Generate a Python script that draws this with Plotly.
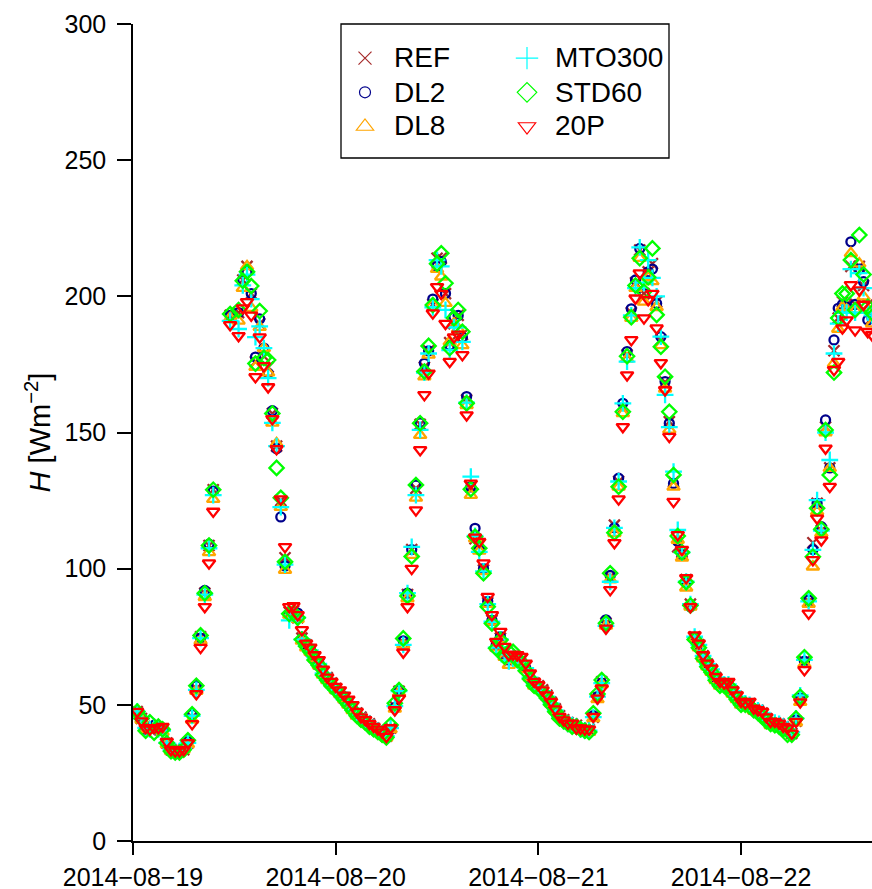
import pandas as pd
import plotly.graph_objects as go

# half-hourly timestamps 2014-08-19 00:30 ... 2014-08-22 15:30
times = pd.date_range("2014-08-19 00:30", periods=175, freq="30min")
N = None

REF = [
    47.5, 45, 41.5, 41, 42, 41.5, 40.5, 36, 33.5, 33, 33, 33.5,
    36, 45.5, 56, 75, 91, 108.5, 129, N, N, N, 193, N,
    194, 206, 211, 201, 176, 190, 178, 174, 157, 145, 125, 104,
    84, 84.5, 82, 74.5, 72, 70, 67.5, 65, 62, 60, 58, 56,
    54.5, 52.5, 51, 49, 47, 45.5, 44, 43, 41.5, 40.5, 39.5, 38.5,
    41.5, 49.5, 55, 73, 90.5, 107, 129.5, 153, 174, 180, 197, 214,
    214, 201, 183, 190, 193, 186, 162, 130, 111, 109, 99.5, 87.5,
    81, 71.5, 74.5, 69, 66, 67.5, 67, 66.5, 64, 60.5, 58, 57,
    55.5, 53.5, 51, 48.5, 46, 44.5, 43.5, 43, 42.5, 41.5, 41, 41,
    45.5, 53, 58.5, 80, 97, 116, 132, 159, 178.5, 194, 205, 217,
    201, 209, 212, 198, 184, 168.5, 154, 132, 108, 106, 96, 87,
    75, 72, 68, 65, 63, 60, 58, 57.5, 57.5, 55, 53, 51,
    50.5, 50.5, 48.5, 48, 47, 45, 43.5, 43.5, 43, 42, 41, 39.5,
    44, 52, 66, 88, 109.5, 124, 114, 152, 137, 180, 192, 198,
    197, 211, 197, 211, 204, 197, 192,
]
DL2 = [
    47.5, 45, 41, 41.5, 42.5, 40.5, 40.5, 36, 33.5, 33, 33, 34,
    36.5, 46.5, 57, 74.5, 92, 109, 128.5, N, N, N, 193, N,
    194, 206, 209, 201, 177.7, 191.7, 181, 171.8, 158, 144, 119, 101,
    83.5, 84, 83.7, 74, 72, 70.5, 67, 65.5, 61.5, 59.5, 57.5, 56,
    54, 52, 50.5, 48.5, 46.5, 45, 43.5, 42.5, 41, 40, 39, 38,
    41, 49, 55.5, 73.5, 91, 107, 130.7, 153.5, 175.4, 180, 199, 211,
    212.7, 201, 182, 192.5, 193, 185, 163.2, 130, 114.8, 107, 100, 88,
    81, 72, 75, 68.5, 66.5, 67, 66.5, 66, 63.5, 60, 57.5, 56.5,
    55, 53, 50.5, 48, 45.5, 44, 43, 42.5, 42, 41, 40.5, 40.5,
    46, 53, 58, 81.2, 97.5, 115, 133.2, 160.7, 179.7, 195.4, 206, 217.6,
    201, 209, 210, 197.4, 185.2, 168.7, 153.4, 131.3, 110, 105, 95, 86,
    74.5, 71.5, 67.5, 64.5, 62.5, 59.5, 57.5, 57, 57, 54.5, 52.5, 50.5,
    50, 50, 48, 47.5, 46.5, 44.5, 43, 43, 42.5, 41.5, 40.5, 39.5,
    44.5, 52.5, 66, 88.5, 107, 124, 115.4, 154.6, 137, 184, 195.6, 197,
    196, 220, 197, 210, 205.4, 191.3, 192,
]
DL8 = [
    47, 44.5, 41, 41, 41.5, 41, 40, 35.5, 33, 32.5, 32.5, 33.5,
    35.5, 44.5, 55, 73.5, 89.5, 106, 125.5, N, N, N, 192, N,
    191, 203, 211, 195.7, 174, 188.7, 181, 172, 153.5, 146, 122.6, 99.5,
    83, 83.5, 81.5, 73.5, 71, 69.5, 67, 64.5, 61, 59, 57.5, 55.5,
    54, 52, 50, 48, 46, 45, 43.5, 42.5, 41, 40, 39, 38,
    41, 48.5, 54.5, 72, 89, 105, 126, 149, 170.5, 178.5, 197, 210,
    207.2, 197.5, 183.3, 190, 188, 182, 160, 127, 111, 106.5, 99, 87,
    80.5, 71, 74, 67.5, 64.6, 66.5, 66, 65.5, 63, 60, 57, 56,
    55, 53, 50.5, 48, 45.5, 44, 43, 42.5, 41.5, 41, 40.5, 40,
    45, 52, 57.5, 79, 96, 113, 130, 157, 177, 192, 203, 214,
    198, 207, 205.5, 196, 182, 166, 151, 130, 110.5, 104, 93, 86,
    74.5, 71, 67, 64, 62, 59, 57, 56.5, 56.5, 54, 52, 50,
    50, 50, 48, 47.5, 46.5, 44.5, 42.5, 42.5, 42, 41.5, 40.5, 39.5,
    43.5, 51, 65, 87, 100.7, 121, 113, 150, 136.9, 175.4, 188, 196,
    195, 215.8, 195, 212, 199.9, 195, 190,
]
MTO300 = [
    47.5, 45, 41.5, 41, 42, 41, 40.5, 36, 33.5, 33, 33, 34,
    36, 46, 55.5, 74.5, 90.5, 107.5, 127, N, N, N, 191, N,
    188, 204, 208, 199, 185, 189, 181, 170, 153.5, 145, 122.6, 101.5,
    81, 83.5, 82, 74, 72, 70, 67.5, 65, 61.5, 59.5, 57.5, 55.5,
    54.5, 52, 50.5, 48.5, 46.5, 45, 44, 43, 41.5, 40.5, 39.5, 38.5,
    41.5, 49.5, 55, 72, 91, 108, 127, 151, 172, 179, 196, 213.3,
    211, 195, 180.3, 188.6, 188.6, 183.3, 161, 133.8, 112, 106.2, 99, 87,
    80.5, 71, 74, 68.5, 66, 67, 66.5, 66, 63.5, 60, 57.5, 56.5,
    55, 53, 50.5, 48, 45.5, 44, 43, 42.5, 42, 41, 40.5, 40.5,
    45.5, 53, 58, 79, 95.2, 115, 132, 160.7, 176, 193, 203, 218,
    205, 213.3, 206.8, 200, 185.2, 163.8, 152, 135.6, 114.2, 106, 95.2, 87,
    75, 72, 68, 65, 63, 60, 57.5, 57.5, 57.5, 55, 53, 50.5,
    50.5, 50, 48.5, 48, 47, 45, 43.5, 43.5, 43, 42, 41, 40,
    45, 53.5, 66.5, 88, 106.9, 125.2, 114, 150, 139.9, 179, 190, 194,
    194, 210, 194, 208.5, 203, 194, 193,
]
STD60 = [
    47.5, 45, 40.5, 43.6, 39.8, 42, 41, 36, 33, 32.5, 32.5, 33.5,
    37, 46.5, 57, 75.5, 91, 108.5, 129, N, N, N, 193.5, N,
    195, 205.7, 209, 203.8, 175.3, 194.6, 177.4, 176.6, 157, 137, 126, 102.5,
    83.4, 83.7, 82, 74, 71.5, 69.5, 66.5, 64.5, 61, 59, 57, 55.5,
    54, 52, 50, 48, 46, 44.5, 43.5, 42, 41, 40, 39, 38,
    42.6, 50.6, 55.4, 74.4, 90, 104.5, 130.7, 153.4, 172.4, 181.8, 196.8, 212,
    215.8, 204.8, 181, 192, 195, 187, 160.7, 129.2, 111.7, 107.5, 98.3, 86,
    79.9, 70.8, 73.8, 67.7, 69.5, 69.5, 66.5, 65.5, 62.5, 59.5, 57, 56,
    54.5, 52.5, 50, 47.5, 45, 44, 43, 42, 42, 41, 40.5, 40,
    46.9, 54, 59.1, 80, 98.3, 113.2, 130.1, 157.6, 178, 192.3, 204, 214,
    201.7, 207, 217.6, 193.2, 181.5, 170.5, 157.6, 134.4, 112, 106, 95, 86.5,
    74, 71, 67, 64, 62, 59, 57, 57, 57, 54, 52, 50,
    50, 49.5, 48, 47, 46, 44, 43, 42.5, 42, 41, 39, 39,
    45, 53, 67.5, 89.1, 104.4, 122.2, 114.5, 150.9, 134.4, 172, 192, 201,
    201, 213.3, 195, 222.5, 208, 196.2, 194,
]
P20 = [
    47.5, 44, 41.5, 41, 41.5, 41.5, 42, 36.5, 33.5, 33, 33, 33.5,
    36, 43, 54, 71, 86, 102, 121, N, N, N, 189.5, N,
    185.5, 195.7, 198, 193, 170.4, 185, 174.5, 166.7, 155, 144, 125.5, 108,
    86, 86.3, 83, 77.5, 72.6, 71.1, 68.3, 66.5, 63, 60.1, 58.5, 56.7,
    55.4, 53.5, 52, 50, 47.5, 45.5, 44.5, 43, 42, 41, 40, 38.3,
    41.5, 48.1, 52.4, 69.3, 86, 100, 121.5, 143.6, 163.8, 171.7, 193.8, 203.5,
    201, 190, 176, 185, 186, 178.5, 156.4, 131.3, 111.5, 109.9, 102, 89.7,
    83, 73.2, 76.9, 71.4, 68.3, 68.5, 68.3, 67.7, 65.2, 61.6, 58.5, 57.3,
    55.4, 53.6, 51.2, 48.4, 45.7, 44.4, 43.2, 43.2, 41.4, 41.4, 41, 41,
    45.7, 52.4, 56.1, 78.1, 92.2, 109.5, 125.5, 152.1, 171.1, 184, 199.3, 208.5,
    192, 198.7, 201, 188.3, 175.6, 165.6, 148.5, 124.6, 112.4, 107, 96.6, 86,
    75.6, 72.6, 68.3, 65.2, 63.4, 60.3, 58.5, 57.9, 58.5, 55.4, 53.6, 51.2,
    50.6, 51.2, 48.7, 48.1, 47.5, 45.5, 43.8, 43.8, 43.2, 42, 41.4, 39.5,
    43.8, 51, 62.8, 83.6, 103.2, 118.5, 110.5, 144.2, 130.1, 173, 176, 188.3,
    191.3, 204.2, 187.6, 202.3, 197, 187, 185.8,
]

series_names = ["REF", "DL2", "DL8", "MTO300", "STD60", "20P"]
series_values = [REF, DL2, DL8, MTO300, STD60, P20]
series_colors = ["#A52A2A", "#00008B", "#FFA500", "#00FFFF", "#00FF00", "#FF0000"]
series_symbols = ["x-thin-open", "circle-open", "triangle-up-open",
                  "cross-thin-open", "diamond-open", "triangle-down-open"]
plot_sizes = [11, 9, 11, 12, 11, 11]
legend_sizes = [13, 11, 15, 17, 15, 15]
legend_ids = ["legend", "legend", "legend", "legend2", "legend2", "legend2"]

x_tick_vals = ["2014-08-19", "2014-08-20", "2014-08-21", "2014-08-22"]
x_tick_text = ["2014\u221208\u221219", "2014\u221208\u221220",
               "2014\u221208\u221221", "2014\u221208\u221222"]
y_tick_vals = [0, 50, 100, 150, 200, 250, 300]

FONT = "Liberation Sans, Arial, Helvetica, sans-serif"

W, H = 872, 889
ML, MR, MT, MB = 133, 0, 24, 48
pw, ph = W - ML - MR, H - MT - MB


def px_x(p):
    return (p - ML) / pw


def px_y(p):
    return 1 - (p - MT) / ph


fig = go.Figure()
for name, vals, col, sym, sz in zip(series_names, series_values, series_colors,
                                    series_symbols, plot_sizes):
    fig.add_trace(go.Scatter(
        x=times, y=vals, mode="markers", name=name, showlegend=False,
        marker=dict(symbol=sym, size=sz, color=col,
                    line=dict(color=col, width=2.3)),
        cliponaxis=True,
    ))
# legend keys (thin outlines as in the reference legend); labels are drawn
# as annotations so that the label size and row spacing both match
for name, col, sym, sz, lg in zip(series_names, series_colors, series_symbols,
                                  legend_sizes, legend_ids):
    fig.add_trace(go.Scatter(
        x=[None], y=[None], mode="markers", name=" ", legend=lg,
        marker=dict(symbol=sym, size=sz, color=col,
                    line=dict(color=col, width=1.2)),
    ))

fig.add_shape(type="rect", xref="paper", yref="paper",
              x0=px_x(341), x1=px_x(669), y0=px_y(158), y1=px_y(24),
              line=dict(color="black", width=1.3), fillcolor="white",
              layer="above")

label_x = [392, 392, 392, 553, 553, 553]
label_y = [58, 92, 126, 58, 92, 126]
for name, lx, ly in zip(series_names, label_x, label_y):
    fig.add_annotation(text=name, xref="paper", yref="paper",
                       x=px_x(lx), y=px_y(ly), xanchor="left", yanchor="middle",
                       showarrow=False,
                       font=dict(family=FONT, size=28, color="black"))

legend_common = dict(
    font=dict(family=FONT, size=24, color="black"),
    bgcolor="rgba(0,0,0,0)", borderwidth=0,
    orientation="v", yanchor="top", xanchor="left",
    tracegroupgap=0, itemsizing="trace", itemwidth=30,
)

fig.update_layout(
    width=W, height=H,
    margin=dict(l=ML, r=MR, t=MT, b=MB, pad=0, autoexpand=False),
    paper_bgcolor="white", plot_bgcolor="white",
    font=dict(family=FONT, size=24, color="black"),
    legend=dict(x=px_x(345), y=px_y(36), **legend_common),
    legend2=dict(x=px_x(507), y=px_y(36), **legend_common),
    xaxis=dict(
        type="date",
        range=["2014-08-19 00:00", "2014-08-22 15:30"],
        tickvals=x_tick_vals, ticktext=x_tick_text,
        ticks="outside", ticklen=12, tickwidth=1.5, tickcolor="black",
        ticklabelstandoff=1, automargin=False,
        showline=True, linecolor="black", linewidth=1.5,
        showgrid=False, zeroline=False,
        tickfont=dict(family=FONT, size=25, color="black"),
    ),
    yaxis=dict(
        range=[0, 300],
        tickvals=y_tick_vals,
        ticks="outside", ticklen=14, tickwidth=1.5, tickcolor="black",
        ticklabelstandoff=6, automargin=False,
        showline=True, linecolor="black", linewidth=1.5,
        showgrid=False, zeroline=False,
        tickfont=dict(family=FONT, size=25, color="black"),
        title=dict(text="<i>H</i> [Wm<sup>\u22122</sup>]",
                   font=dict(family=FONT, size=29, color="black"),
                   standoff=5),
    ),
)

fig.write_html(
    "out.html",
    config={"displayModeBar": False},
    post_script="document.body.style.margin='0';"
                "document.body.style.overflow='hidden';",
)
